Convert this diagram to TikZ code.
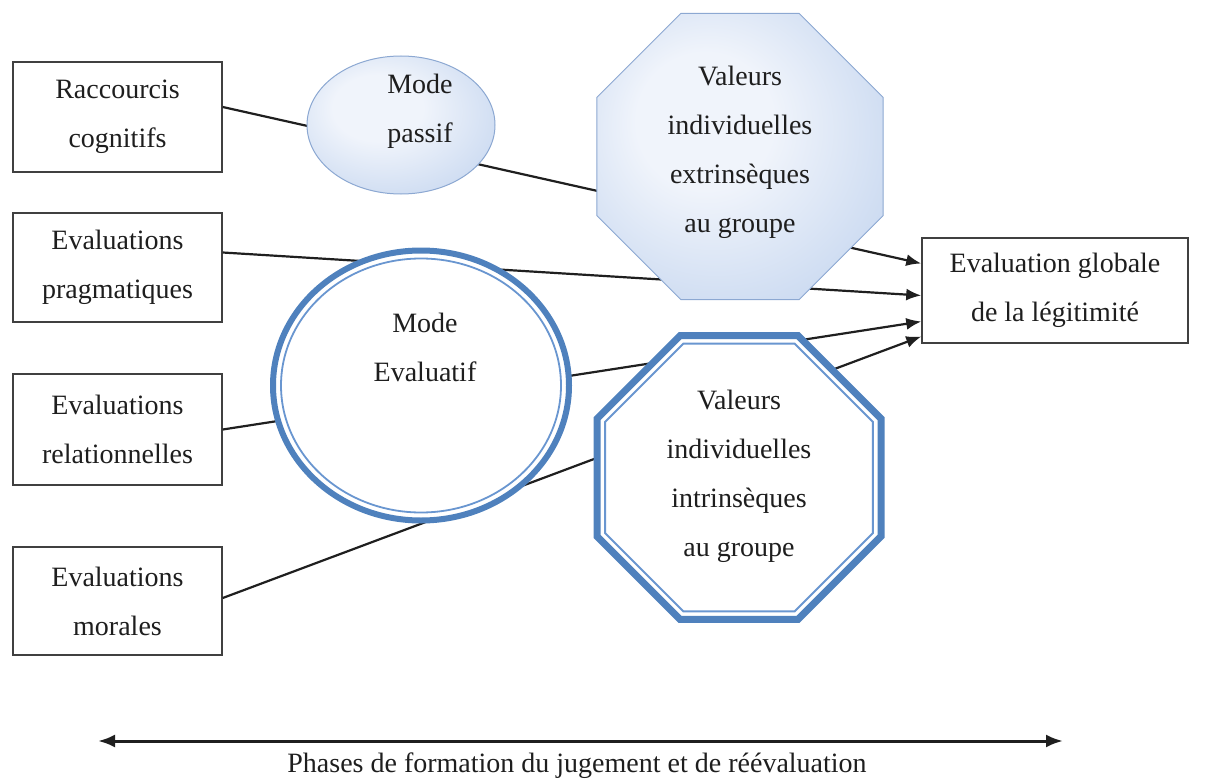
\documentclass[tikz,border=0pt]{standalone}
\usepackage{fontspec}
\setmainfont{Liberation Serif}
\usetikzlibrary{shapes.geometric,arrows.meta,calc}
\definecolor{obl}{RGB}{79,129,189}
\definecolor{obl2}{RGB}{105,150,208}
\definecolor{shin}{RGB}{240,244,251}
\definecolor{shmid}{RGB}{200,216,240}
\definecolor{shout}{RGB}{160,188,228}
\definecolor{shedge}{RGB}{140,168,210}
\definecolor{txt}{RGB}{30,30,30}
\pgfdeclareradialshading{softblue}{\pgfpoint{-8bp}{8bp}}{color(0bp)=(shin); color(12bp)=(shin); color(34bp)=(shmid); color(52bp)=(shout)}
\begin{document}
\begin{tikzpicture}[x=1pt,y=-1pt,
  every node/.style={font=\fontsize{28}{49}\selectfont, text=txt},
  box/.style={draw=black!75, line width=1.5pt, fill=white, inner sep=0pt,
              minimum width=209pt, minimum height=110pt, align=center},
  link/.style={line width=2.2pt, draw=black!88},
  arr/.style={link, -{Latex[length=15pt,width=12pt]}},
  lbl/.style={align=center, inner sep=0pt},
  octo/.style={regular polygon, regular polygon sides=8, inner sep=0pt},
]
\useasboundingbox (0,0) rectangle (1205,781);

% boxes
\node[box] (rac) at (117.5,117) {Raccourcis\\cognitifs};
\node[box, minimum height=109pt] (prag) at (117.5,267.5) {Evaluations\\pragmatiques};
\node[box, minimum height=111pt] (rel) at (117.5,429.5) {Evaluations\\relationnelles};
\node[box, minimum height=108pt] (mor) at (117.5,601) {Evaluations\\morales};
\node[box, minimum width=266pt, minimum height=105pt] (glob) at (1055,290.5) {Evaluation globale\\de la légitimité};

% connectors (behind the shapes)
\draw[arr] ([yshift=10pt]rac.east) -- ([yshift=27pt]glob.west);
\draw[arr] ([yshift=15pt]prag.east) -- ([yshift=-5pt]glob.west);
\draw[arr] ([yshift=0pt]rel.east) -- ([yshift=-31pt]glob.west);
\draw[arr] ([yshift=3pt]mor.east) -- ([yshift=-46pt]glob.west);

% Mode passif
\node[ellipse, minimum width=188pt, minimum height=138pt, inner sep=0pt,
      shade, shading=softblue, draw=shedge, line width=1pt] (passif) at (401,125) {};
\node[lbl] (passifT) at (420,111) {Mode\\passif};

% Valeurs extrinseques
\node[octo, minimum size=309.6pt, shade, shading=softblue, draw=shedge, line width=1pt] (vext) at (740,156.5) {};
\node[lbl] (vextT) at (740,152) {Valeurs\\individuelles\\extrinsèques\\au groupe};

% Mode Evaluatif
\node[ellipse, minimum width=296pt, minimum height=270pt, inner sep=0pt,
      fill=white, draw=obl, line width=6pt] (evalu) at (421,385.5) {};
\node[ellipse, minimum width=280pt, minimum height=254pt, inner sep=0pt,
      draw=obl2, line width=1.8pt] (evaluIn) at (421,385.5) {};
\node[lbl] (evaluT) at (425,347) {Mode\\Evaluatif};

% Valeurs intrinseques
\node[octo, minimum size=307.4pt, fill=white, draw=obl, line width=7pt] (vint) at (739,477.5) {};
\node[octo, minimum size=290pt, draw=obl2, line width=2pt] (vintIn) at (739,477.5) {};
\node[lbl] (vintT) at (739,476.5) {Valeurs\\individuelles\\intrinsèques\\au groupe};

% bottom axis
\coordinate (L) at (98,741);
\coordinate (R) at (1063,741);
\draw[line width=3pt, draw=black!88, {Latex[length=17pt,width=13pt]}-{Latex[length=17pt,width=13pt]}] (L) -- (R);
\node[anchor=base, inner sep=0pt] (phases) at (577,772) {Phases de formation du jugement et de réévaluation};
\end{tikzpicture}
\end{document}
